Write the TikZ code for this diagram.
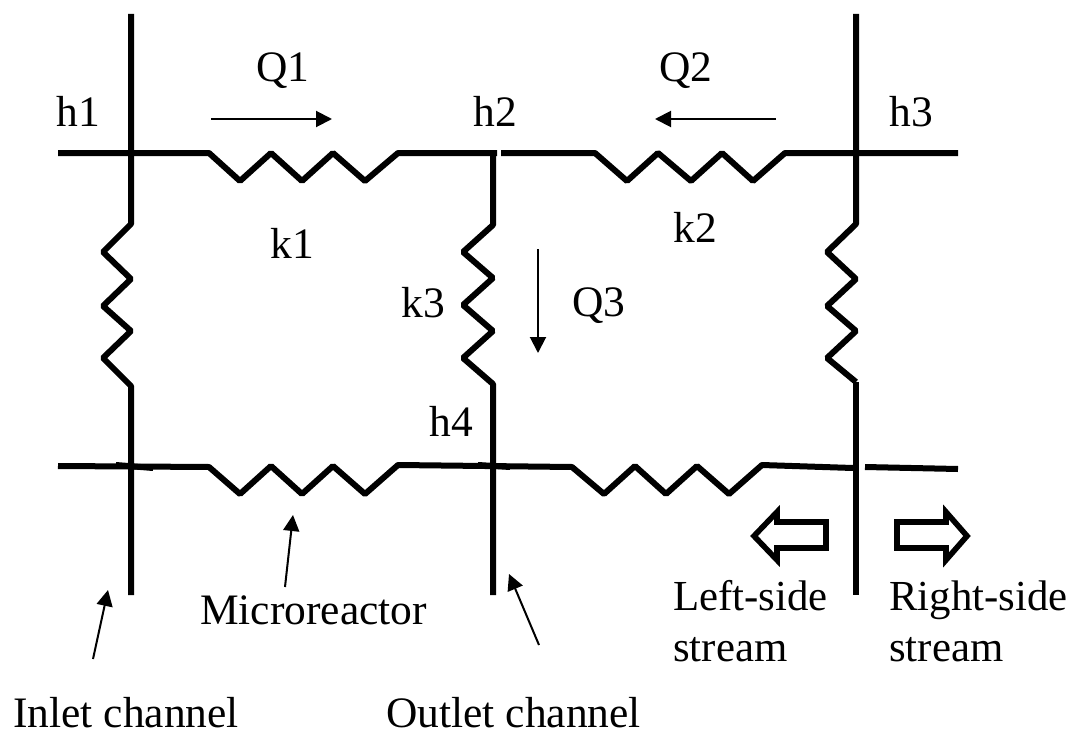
\documentclass[tikz,border=0pt]{standalone}
\usepackage{fontspec}
\setmainfont{Liberation Serif}
\usetikzlibrary{arrows.meta}
\tikzset{
  wire/.style={line width=4.5pt,line join=bevel},
  flow/.style={line width=1.5pt,-{Triangle[length=12pt,width=12pt]}},
  block/.style={line width=4.2pt,line join=miter,fill=white},
  lbl/.style={anchor=base west,inner sep=0pt,font=\fontsize{32.6pt}{38pt}\selectfont},
  sidelbl/.style={anchor=base west,inner sep=0pt,font=\fontsize{32.1pt}{38pt}\selectfont},
}
\begin{document}
\begin{tikzpicture}[x=0.75pt,y=-0.75pt]
\useasboundingbox (0,0) rectangle (1074,735);
% wires
\draw[wire] (58,153) -- (209,153) -- (240,181) -- (271,153) -- (302,181) -- (333,153) -- (365,181) -- (398,153) -- (497,153);
\draw[wire] (501,153) -- (595,153) -- (627,181) -- (658,153) -- (691,181) -- (722,153) -- (753,181) -- (785,153) -- (958,153);
\draw[wire] (58,466) -- (209,467) -- (240,494) -- (271,466) -- (302,494) -- (333,466) -- (365,494) -- (398,465) -- (572,467) -- (604,494) -- (635,466) -- (666,494) -- (697,466) -- (729,494) -- (762,465) -- (853,468);
\draw[wire] (865,467) -- (958,469);
\draw[wire] (116,465) -- (153,468);
\draw[wire] (478,465) -- (510,467);
\draw[wire] (131,14) -- (131,224) -- (103,252) -- (131,279) -- (103,306) -- (131,331) -- (103,358) -- (131,386) -- (131,595);
\draw[wire] (493,153) -- (493,225) -- (463,252) -- (493,278) -- (463,305) -- (493,331) -- (463,358) -- (493,384) -- (493,595);
\draw[wire] (856,14) -- (856,224) -- (827,252) -- (856,279) -- (827,306) -- (856,331) -- (827,358) -- (856,382);
\draw[wire] (856,382) -- (856,595);
% block arrows
\draw[block] (826,522) -- (777,522) -- (777,512) -- (754,536) -- (777,560) -- (777,548) -- (826,548) -- cycle;
\draw[block] (897,522) -- (946,522) -- (946,512) -- (967,536) -- (946,560) -- (946,548) -- (897,548) -- cycle;
% labels
\node[lbl] (h1) at (56,126) {h1};
\node[lbl] (h2) at (473,126) {h2};
\node[lbl] (h3) at (889,126) {h3};
\node[lbl] (h4) at (429,436) {h4};
\node[lbl] (q1) at (256,81) {Q1};
\node[lbl] (q2) at (659,81) {Q2};
\node[lbl] (q3) at (572,316) {Q3};
\node[lbl] (k1) at (270,258) {k1};
\node[lbl] (k2) at (673,242) {k2};
\node[lbl] (k3) at (401,317) {k3};
\node[lbl] (micro) at (200,624) {Microreactor};
\node[lbl] (inlet) at (13,727) {Inlet channel};
\node[lbl] (outlet) at (386,727) {Outlet channel};
\node[sidelbl] (ls1) at (673,610) {Left-side};
\node[sidelbl] (ls2) at (673,661) {stream};
\node[sidelbl] (rs1) at (889,610) {Right-side};
\node[sidelbl] (rs2) at (889,661) {stream};
% thin arrows
\coordinate (q1a) at (211,119); \coordinate (q1b) at (332,119);
\coordinate (q2a) at (776,119); \coordinate (q2b) at (655,119);
\coordinate (q3a) at (538,249); \coordinate (q3b) at (538,353);
\coordinate (ma) at (285,587); \coordinate (mb) at (293,515);
\coordinate (ia) at (93,659); \coordinate (ib) at (108,590);
\coordinate (oa) at (539,645); \coordinate (ob) at (509,574);
\draw[flow] (q1a) -- (q1b);
\draw[flow] (q2a) -- (q2b);
\draw[flow] (q3a) -- (q3b);
\draw[flow] (ma) -- (mb);
\draw[flow] (ia) -- (ib);
\draw[flow] (oa) -- (ob);
\end{tikzpicture}
\end{document}
